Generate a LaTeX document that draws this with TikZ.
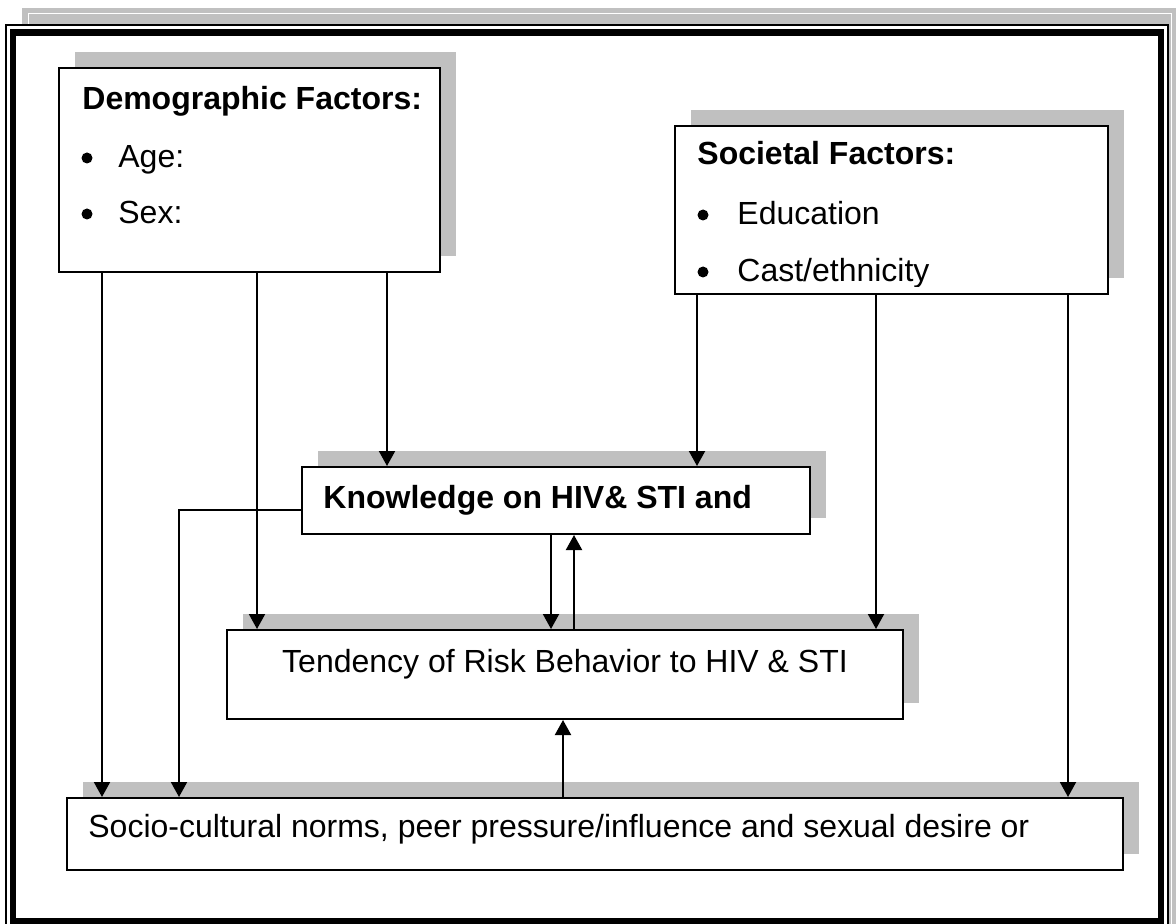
\documentclass[tikz,border=0pt]{standalone}
\usepackage{fontspec}
\setmainfont{Liberation Sans}
\usetikzlibrary{arrows.meta}
\usetikzlibrary{shadows}
\definecolor{shadowgray}{RGB}{192,192,192}
\tikzset{>={Triangle[width=8pt,length=7.5pt]}}
\tikzset{factorbox/.style={draw, line width=1pt, fill=white, inner sep=0pt,
	drop shadow={shadow xshift=8pt, shadow yshift=8pt, fill=shadowgray, opacity=1}}}
\tikzset{boxtext/.style={anchor=base west, inner sep=0pt, font=\fontsize{16}{19}\selectfont}}
\tikzset{link/.style={->, line width=1pt}}

\begin{document}
\begin{tikzpicture}[x=0.5pt,y=-0.5pt]
	\useasboundingbox (0,0) rectangle (1176,924);
	\clip (0,0) rectangle (1176,924);

	% page frame and its grey shadow
	\fill[shadowgray] (22,8) rectangle (1190,940);
	\draw[white, line width=0.5pt] (28,14) rectangle (1171,940);
	\fill[white] (6,25) rectangle (1168,940);
	\draw[line width=0.75pt] (6,25) rectangle (1168,940);
	\draw[line width=3.25pt] (13,32.5) rectangle (1161,921);

	% boxes
	\node[factorbox, minimum width=190.5pt, minimum height=102pt] (demo) at (249.5,170) {};
	\node[factorbox, minimum width=216.5pt, minimum height=84pt] (soc) at (891.5,210) {};
	\node[factorbox, minimum width=254pt, minimum height=33.5pt] (know) at (556,500.5) {};
	\node[factorbox, minimum width=338pt, minimum height=44.5pt] (tend) at (565,674.5) {};
	\node[factorbox, minimum width=528pt, minimum height=36pt] (socio) at (595,834) {};

	% texts
	\node[boxtext, font=\fontsize{16}{19}\selectfont\bfseries] (demoTitle) at (82,110) {Demographic Factors:};
	\node[boxtext] (age) at (118,168) {Age:};
	\node[boxtext] (sex) at (118,224) {Sex:};
	\foreach \y in {158,214}
		\fill (87,\y) circle (2.75pt);

	\node[boxtext, font=\fontsize{16}{19}\selectfont\bfseries] (socTitle) at (697,165) {Societal Factors:};
	\node[boxtext] (edu) at (737,225) {Education};
	\begin{scope}
		\clip (675,126) rectangle (1108,287);
		\node[boxtext] (cast) at (737,282) {Cast/ethnicity};
	\end{scope}
	\foreach \y in {215,272}
		\fill (703,\y) circle (2.75pt);

	\node[boxtext, font=\fontsize{16}{19}\selectfont\bfseries] (knowText) at (323,508) {Knowledge on HIV\& STI and};
	\node[boxtext, anchor=base] (tendText) at (565,672) {Tendency of Risk Behavior to HIV \& STI};
	\node[boxtext] (socioText) at (88,837) {Socio-cultural norms, peer pressure/influence and sexual desire or};

	% columns of the connectors
	\coordinate (demoL) at (102,0);
	\coordinate (demoM) at (257,0);
	\coordinate (demoR) at (387,0);
	\coordinate (socL) at (697,0);
	\coordinate (socM) at (876,0);
	\coordinate (socR) at (1068,0);
	\coordinate (knowD) at (551,0);
	\coordinate (knowU) at (574,0);
	\coordinate (socioU) at (563,0);
	\coordinate (knowBend) at (179,510);

	\draw[link] (demo.south -| demoL) -- (socio.north -| demoL);
	\draw[link] (demo.south -| demoM) -- (tend.north -| demoM);
	\draw[link] (demo.south -| demoR) -- (know.north -| demoR);
	\draw[link] (soc.south -| socL) -- (know.north -| socL);
	\draw[link] (soc.south -| socM) -- (tend.north -| socM);
	\draw[link] (soc.south -| socR) -- (socio.north -| socR);
	\draw[link] (know.south -| knowD) -- (tend.north -| knowD);
	\draw[link] (tend.north -| knowU) -- (know.south -| knowU);
	\draw[link] (socio.north -| socioU) -- (tend.south -| socioU);
	\draw[link] (know.west |- knowBend) -- (knowBend) -- (socio.north -| knowBend);

\end{tikzpicture}
\end{document}
